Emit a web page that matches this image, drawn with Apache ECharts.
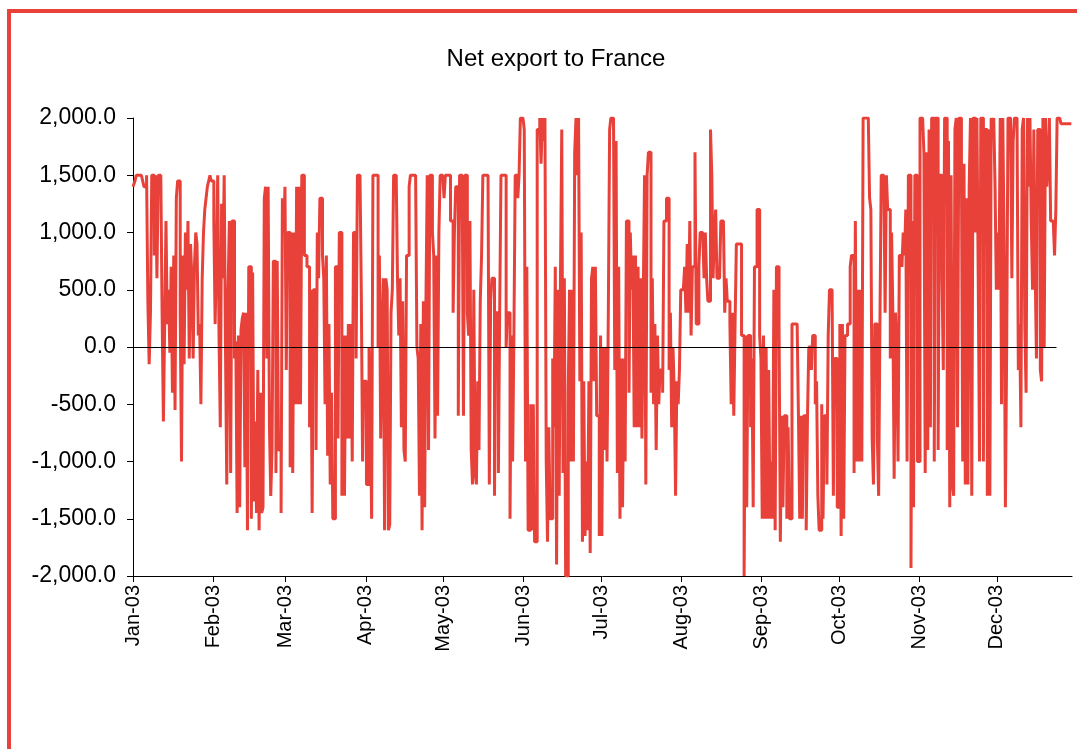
<!DOCTYPE html>
<html>
<head>
<meta charset="utf-8">
<script src="https://cdn.jsdelivr.net/npm/echarts@6/dist/echarts.min.js"></script>
<style>
  html, body { margin: 0; padding: 0; background: #fff; }
  #chart { width: 1077px; height: 749px; }
</style>
</head>
<body>
<div id="chart"></div>
<script>
// twice-daily readings (00h, 12h), one array per month
const jan = [1400,1400,1450,1500,1500,1500,1500,1500,1450,1400,1400,1500,400,-150,300,1500,1500,800,1500,600,1500,1500,1500,300,-650,200,1100,200,500,-50,700,-400,800,-550,1300,1450,1450,300,-1000,800,-150,1000,500,1100,-100,900,600,-100,700,1000,900,100,200,-500,600,1000,1200,1300,1400,1450,1500,1450];
const feb = [1450,1100,200,800,1500,100,-700,1250,600,1500,0,-1200,500,1100,-1100,1100,1100,-100,50,-1450,100,-1400,150,250,300,-1050,300,-1600,700,700,-1500,650,-1350,-650,-1450,-200,-1600,-400,-1450,-1400,1300,1400,-100,1400,-700,-1300,-900,750,750,-1100,750,-900,-900,-1450,1300,1000];
const mar = [1400,-200,1000,1000,-1050,1000,-1100,1000,-500,1400,-500,1400,-500,1500,1500,800,800,700,700,-700,500,-1450,500,500,-900,1000,600,1300,1300,800,600,-500,800,-950,200,-1200,-400,-1500,-1500,700,700,-800,1000,1000,-1300,100,-1300,100,-800,200,-800,200,-1000,1000,1000,-100,1500,1500,1500,500,-1000,-300];
const apr = [-300,-1200,-1200,0,-500,-1500,1500,1500,1500,1500,0,800,-800,100,600,-1600,600,500,-1600,-1550,300,500,1500,1500,1500,600,100,600,-700,400,-900,-1000,800,800,1400,1500,1500,1500,1500,1500,0,-100,-1300,200,-1600,400,-1400,400,1500,-900,1500,1500,1000,800,-800,800,-600,1000,1500,1500];
const may = [1500,1300,1500,1500,1500,1500,1100,1100,300,1000,1400,1400,-600,1500,1500,1500,-600,1500,1500,300,100,1100,-900,-1200,500,-1100,-1200,-300,-900,400,800,1500,1500,1500,1500,1500,-1200,400,600,600,-1300,300,300,-1100,300,1500,1500,1500,1500,0,300,300,-1500,100,-1000,100,1500,1500,1300,1500,2000,2000];
const jun = [2000,1900,-1000,700,-1600,-1600,-500,-1600,-500,-1700,-1700,1900,1900,2000,1600,2000,1800,2000,-1000,-1700,-700,-1500,-1500,-100,-700,700,-1900,500,-1300,600,1900,-1100,600,-2000,-2000,-400,500,-1000,500,-1000,1700,2000,1500,2000,-300,1000,-1700,-300,-1650,-1000,-1600,-300,-1800,600,700,-300,700,-600,-600,-1650];
const jul = [100,-1650,0,-900,0,-1000,300,1900,2000,2000,2000,-200,1800,-1100,700,-1500,-100,-1400,-100,-1000,1100,1100,-400,1000,500,800,-700,800,-700,700,-700,600,-800,400,1500,-1200,1500,1700,1700,-400,600,-500,200,-900,100,-500,-200,-200,-400,1100,1100,1300,1300,-200,300,-700,0,-400,-1300,-300,-500,-200];
const aug = [500,500,500,700,300,900,300,1100,100,700,700,1700,200,200,700,1000,1000,1000,600,1000,600,400,400,1900,1500,600,1000,1200,600,600,600,1100,1100,1100,300,600,400,400,200,-500,300,-600,200,900,900,900,900,100,100,-2000,100,-1400,100,100,-700,-100,-1400,700,700,1200,1200,100];
const sep = [-100,-1500,100,-1500,0,-1500,-200,-1500,-1000,-1500,500,-1600,700,700,200,-1700,-600,-1400,-600,-600,-1500,-700,-1500,-1500,200,200,200,200,200,-600,-1500,-600,-1500,-600,-600,-1600,-600,0,0,-200,100,100,-500,-300,-1300,-1600,-1600,-500,-1500,-600,-600,-1200,100,500,500,500,-1300,-100,-100,-1400];
const oct = [-1400,200,-1650,200,-1500,100,100,200,200,700,800,800,-1100,1100,-1000,500,-1000,500,-1000,2000,2000,2000,2000,2000,1300,1200,-800,-1200,200,200,-800,-1300,200,1500,1500,1500,300,1500,1200,1200,-100,1000,300,-1150,300,0,-1000,800,800,700,1000,800,1200,-1000,1500,1500,-1930,1100,-1400,1500,1500,-1000];
const nov = [-1000,2000,2000,2000,1700,-1100,1700,-900,1900,-700,2000,2000,-1000,2000,2000,-900,1500,1500,600,-200,2000,2000,-900,1800,-1400,1500,-1200,-1300,1900,2000,-700,2000,2000,1600,-1000,1600,-1200,1300,-1200,1400,2000,-1300,2000,2000,1000,2000,600,-1000,2000,2000,-1000,1900,1900,-1300,1900,-1300,2000,1900,2000,1400];
const dec = [500,1000,500,2000,-500,2000,900,-1400,0,2000,2000,2000,600,1800,2000,2000,2000,-200,200,-700,1900,2000,200,-400,2000,1400,2000,1100,500,1900,700,-100,1900,1900,-200,-300,2000,0,2000,1400,1600,2000,1100,1100,1100,800,1200,2000,2000,2000,1950,1950,1950,1950,1950,1950,1950,1950,1950];

const monthNames = ['Jan','Feb','Mar','Apr','May','Jun','Jul','Aug','Sep','Oct','Nov','Dec'];
const yTicks = [-2000, 2000, 500]; // min, max, step
const zeroLineEnd = '2003-12-24T00';

const values = [].concat(jan, feb, mar, apr, may, jun, jul, aug, sep, oct, nov, dec);

const pad = n => (n < 10 ? '0' : '') + n;
const start = Date.UTC(2003, 0, 1);
const categories = values.map((v, i) => {
    const d = new Date(start + i * 12 * 3600 * 1000);
    return d.getUTCFullYear() + '-' + pad(d.getUTCMonth() + 1) + '-' + pad(d.getUTCDate()) + 'T' + pad(d.getUTCHours());
});
const isMonthStart = (idx, val) => /-01T00$/.test(val);

const fmtNum = v => {
    const s = Math.abs(v).toFixed(1).replace(/\B(?=(\d{3})+(?!\d))/g, ',');
    return (v < 0 ? '-' : '') + s;
};

const chart = echarts.init(document.getElementById('chart'));
chart.setOption({
    animation: false,
    backgroundColor: '#fff',
    textStyle: { fontFamily: 'Liberation Sans, Arial, sans-serif' },
    title: {
        text: 'Net export to France',
        left: 551,
        top: 42,
        textAlign: 'center',
        textStyle: { fontSize: 24, fontWeight: 'normal', color: '#000' }
    },
    graphic: [{
        type: 'rect',
        shape: { x: 9, y: 11, width: 1200, height: 900 },
        style: { fill: 'none', stroke: '#E8413A', lineWidth: 4 },
        silent: true
    }],
    grid: { left: 133, right: 5, top: 118, bottom: 173, containLabel: false },
    xAxis: {
        type: 'category',
        data: categories,
        boundaryGap: false,
        axisLine: { onZero: false, lineStyle: { color: '#000', width: 1 } },
        axisTick: { show: true, inside: false, length: 6, interval: isMonthStart, lineStyle: { color: '#000' } },
        axisLabel: {
            interval: isMonthStart,
            rotate: 90,
            margin: 9,
            fontSize: 20,
            color: '#000',
            formatter: val => monthNames[+val.slice(5, 7) - 1] + '-' + val.slice(2, 4)
        },
        splitLine: { show: false }
    },
    yAxis: {
        type: 'value',
        min: yTicks[0],
        max: yTicks[1],
        interval: yTicks[2],
        axisLine: { show: true, lineStyle: { color: '#000', width: 1 } },
        axisTick: { show: true, inside: false, length: 6, lineStyle: { color: '#000' } },
        axisLabel: { fontSize: 23, color: '#000', margin: 17, formatter: fmtNum },
        splitLine: { show: false }
    },
    series: [{
        name: 'Net export',
        type: 'line',
        data: values,
        step: 'middle',
        showSymbol: false,
        sampling: null,
        lineStyle: { color: '#E8413A', width: 3 },
        itemStyle: { color: '#E8413A' },
        markLine: {
            silent: true,
            symbol: ['none', 'none'],
            label: { show: false },
            lineStyle: { color: '#000', width: 1, type: 'solid' },
            data: [[{ coord: [0, 0] }, { coord: [categories.indexOf(zeroLineEnd), 0] }]]
        }
    }]
});
</script>
</body>
</html>
